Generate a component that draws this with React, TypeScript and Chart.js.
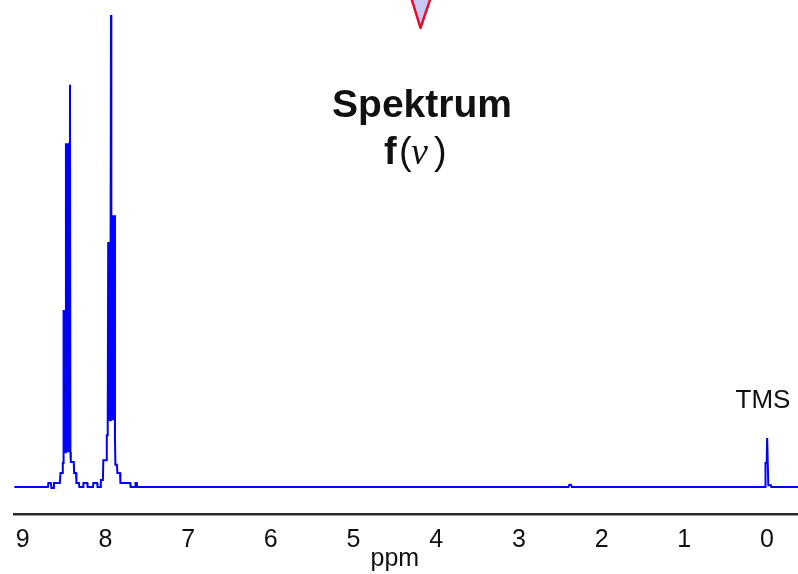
import React, { useEffect, useRef } from "react";
import { Chart, registerables } from "chart.js";

Chart.register(...registerables);

// Chemical shift (ppm) of each spectrum sample point
const ppmValues: number[] = [
  9.1, 8.695, 8.689, 8.66, 8.652, 8.63, 8.622, 8.55, 8.543, 8.52, 8.515, 8.51,
  8.509, 8.502, 8.494, 8.485, 8.477, 8.47, 8.463, 8.456, 8.448, 8.441, 8.433, 8.428, 8.423, 8.418,
  8.382, 8.378, 8.355, 8.35, 8.32, 8.315,
  8.27, 8.266, 8.22, 8.215, 8.15, 8.146, 8.1, 8.095,
  8.06, 8.055, 8.03, 8.025, 7.988, 7.983, 7.972,
  7.966, 7.959, 7.952, 7.944, 7.937, 7.932, 7.928, 7.92, 7.913, 7.906, 7.898, 7.891, 7.884,
  7.879, 7.86, 7.855, 7.823, 7.818, 7.7, 7.695, 7.64, 7.636, 7.62, 7.615,
  2.4, 2.39, 2.37, 2.36,
  0.024, 0.018, 0.004, -0.002, -0.012, -0.016, -0.048, -0.052, -0.375,
];

// Signal intensity at each point (relative, tallest line = 100)
const intensityValues: number[] = [
  0, 0, 0.85, 0.85, -0.2, -0.2, 0.85, 0.85, 3.0, 3.0, 5.1, 5.1,
  37.6, 6.8, 37.6, 7.4, 73.0, 7.9, 73.0, 7.4, 73.0, 7.4, 73.0, 85.4, 7.4, 5.3,
  5.3, 3.0, 3.0, 0.85, 0.85, 0,
  0, 0.85, 0.85, 0, 0, 0.85, 0.85, 0,
  0, 1.5, 1.5, 5.7, 5.7, 11, 11,
  52.0, 14.2, 52.0, 14.2, 52.0, 100.2, 14.2, 57.7, 14.2, 57.7, 14.2, 57.7, 10,
  4.7, 4.7, 3.0, 3.0, 0.85, 0.85, 0, 0, 0.85, 0.85, 0,
  0, 0.5, 0.5, 0,
  0, 5.1, 5.1, 10.4, 10.4, 0.4, 0.4, 0, 0,
];

const tickValues: number[] = [0, 1, 2, 3, 4, 5, 6, 7, 8, 9];
const tickLabels: string[] = ["0", "1", "2", "3", "4", "5", "6", "7", "8", "9"];

const axisTitle = "ppm";
const titleLine1 = "Spektrum";
const referenceLabel = "TMS";
const referencePpm = 0;

const SANS = '"Liberation Sans", Arial, sans-serif';
const SERIF = '"Liberation Serif", "Times New Roman", serif';

const annotationPlugin = {
  id: "annotations",
  afterDraw(chart: any) {
    const ctx = chart.ctx as CanvasRenderingContext2D;
    const xs = chart.scales.x;
    ctx.save();

    // red marker triangle at top
    ctx.beginPath();
    ctx.moveTo(411, -3);
    ctx.lineTo(431, -3);
    ctx.lineTo(420.5, 28);
    ctx.closePath();
    ctx.fillStyle = "#c8c8f6";
    ctx.fill();
    ctx.strokeStyle = "#e0102a";
    ctx.lineWidth = 2.5;
    ctx.lineJoin = "round";
    ctx.stroke();

    ctx.fillStyle = "#111";
    ctx.textBaseline = "alphabetic";

    // title
    ctx.font = `bold 39px ${SANS}`;
    ctx.textAlign = "center";
    ctx.fillText(titleLine1, 422, 117);

    // f (ν)
    ctx.textAlign = "left";
    ctx.font = `bold 38px ${SANS}`;
    ctx.fillText("f", 384, 164);
    ctx.font = `38px ${SANS}`;
    ctx.fillText("(", 399, 164);
    ctx.font = `italic 38px ${SERIF}`;
    ctx.fillText("\u03BD", 411, 164);
    ctx.font = `38px ${SANS}`;
    ctx.fillText(")", 434, 164);

    // TMS label
    ctx.font = `26px ${SANS}`;
    ctx.textAlign = "center";
    ctx.fillText(referenceLabel, xs.getPixelForValue(referencePpm) - 4, 408);

    // axis title
    ctx.font = `25px ${SANS}`;
    ctx.fillText(axisTitle, xs.getPixelForValue(4.5), 566);

    ctx.restore();
  },
};

export default function App() {
  const canvasRef = useRef<HTMLCanvasElement | null>(null);

  useEffect(() => {
    if (!canvasRef.current) return;
    const points = ppmValues.map((p, i) => ({ x: p, y: intensityValues[i] }));
    const chart = new Chart(canvasRef.current, {
      type: "line",
      data: {
        datasets: [
          {
            data: points,
            borderColor: "#0000ff",
            borderWidth: 2,
            pointRadius: 0,
            fill: false,
            tension: 0,
          },
        ],
      },
      options: {
        animation: false,
        responsive: false,
        maintainAspectRatio: false,
        devicePixelRatio: 1,
        layout: { padding: { left: 14, right: 0, top: 0, bottom: 0 } },
        plugins: {
          legend: { display: false },
          tooltip: { enabled: false },
          title: { display: false },
        },
        scales: {
          x: {
            type: "linear",
            reverse: true,
            min: -0.375,
            max: 9.105,
            grid: { display: false, drawTicks: false },
            border: { display: true, color: "#2a2a2a", width: 2.5 },
            ticks: {
              font: { family: SANS, size: 25 },
              color: "#111",
              padding: 11,
              maxRotation: 0,
              autoSkip: false,
              callback: (v: any) => {
                const i = tickValues.indexOf(Number(v));
                return i >= 0 ? tickLabels[i] : "";
              },
            },
            afterBuildTicks: (s: any) => {
              s.ticks = tickValues.map((v) => ({ value: v }));
            },
            afterFit: (s: any) => {
              s.height = 60;
            },
          },
          y: { display: false, min: -5.73, max: 103.4 },
        },
      },
      plugins: [annotationPlugin],
    } as any);
    return () => chart.destroy();
  }, []);

  return (
    <div style={{ position: "absolute", left: 0, top: 0, width: 798, height: 574, background: "#fff" }}>
      <canvas ref={canvasRef} width={798} height={574} style={{ display: "block" }} />
    </div>
  );
}
